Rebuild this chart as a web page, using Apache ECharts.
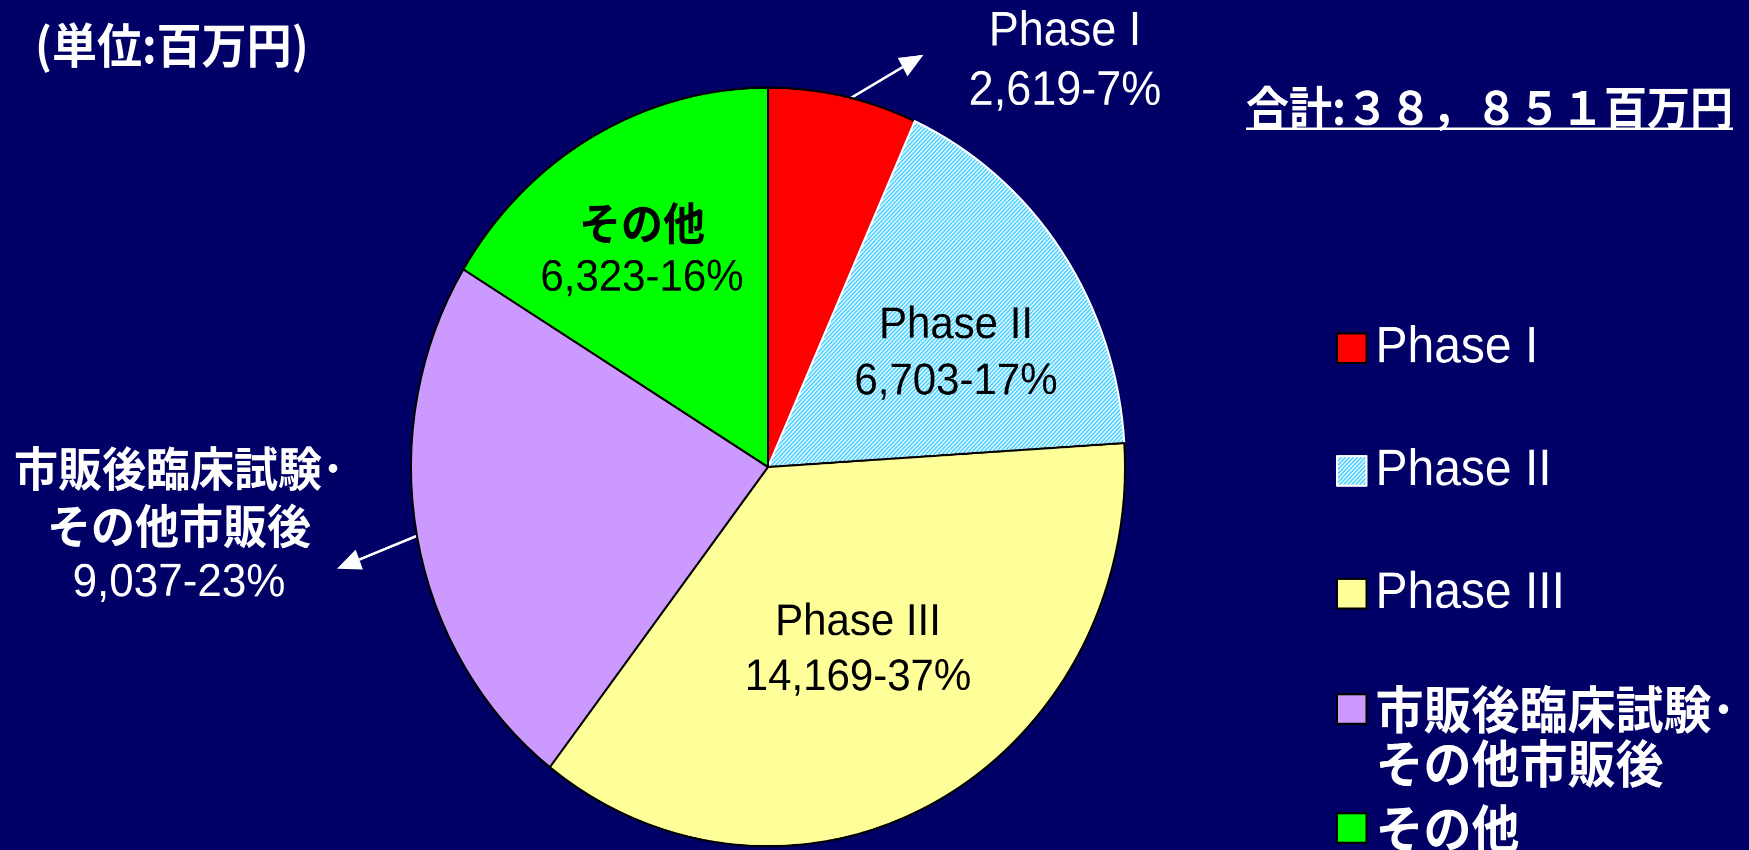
<!DOCTYPE html>
<html>
<head>
<meta charset="utf-8">
<script src="https://cdn.jsdelivr.net/npm/echarts@6/dist/echarts.min.js"></script>
<style>
  html, body { margin: 0; padding: 0; background: #000066; overflow: hidden; }
  #wrap { width: 1749px; height: 850px; overflow: hidden; background: #000066; }
  #c { width: 1749px; height: 800px; transform: scaleY(1.0625); transform-origin: 0 0; }
</style>
</head>
<body>
<div id="wrap"><div id="c"></div></div>
<script>
// ---- data ----
const names = ['Phase I', 'Phase II', 'Phase III', '市販後臨床試験･\nその他市販後', 'その他'];
const values = [2619, 6703, 14169, 9037, 6323];
const percents = [7, 17, 37, 23, 16];
const unitText = '(単位:百万円)';
const totalText = '合計:３８，８５１百万円';

// ---- styles ----
const LATIN = '"Liberation Sans", Arial, "Noto Sans CJK JP", sans-serif';
const CJK = '"Noto Sans CJK JP", "Liberation Sans", sans-serif';
const BG = '#000066';

// Phase II hatch pattern
const pc = document.createElement('canvas');
pc.width = 4; pc.height = 4;
const pctx = pc.getContext('2d');
pctx.fillStyle = '#ffffff'; pctx.fillRect(0, 0, 4, 4);
pctx.fillStyle = '#33ccff';
for (let x = 0; x < 4; x++) for (let y = 0; y < 4; y++) if ((x + y) % 4 < 2) pctx.fillRect(x, y, 1, 1);
const hatch = { image: pc, repeat: 'repeat' };

const sliceFill = ['#ff0000', hatch, '#ffff99', '#cc99ff', '#00ff00'];
const sliceBorder = ['#000000', '#ffffff', '#000000', '#000000', '#000000'];
const labelColor = ['#ffffff', '#000000', '#000000', '#ffffff', '#000000'];
const labelSize = [45, 42, 42, 44, 42];
const labelLH = [56, 53, 52, 54, 52];
const labelPos = [[1065, 58], [956, 333], [858, 612], [179, 495], [642, 236]];

const CX = 768, CY = 439.5, R = 357;

const chart = echarts.init(document.getElementById('c'), null, { renderer: 'canvas', devicePixelRatio: 2 });

const pieData = names.map((n, i) => ({
  name: n,
  value: values[i],
  itemStyle: { color: sliceFill[i], borderColor: sliceBorder[i], borderWidth: 2 },
  label: {
    color: labelColor[i],
    rich: {
      n: { fontFamily: LATIN, fontSize: labelSize[i], lineHeight: labelLH[i], color: labelColor[i] },
      c: { fontFamily: CJK, fontWeight: 'bold', fontSize: labelSize[i], lineHeight: labelLH[i], color: labelColor[i] },
      v: { fontFamily: LATIN, fontSize: labelSize[i], lineHeight: labelLH[i], color: labelColor[i] }
    }
  }
}));

function labelText(p) {
  const i = p.dataIndex;
  const st = i >= 3 ? 'c' : 'n';
  const lines = names[i].split('\n').map(l => '{' + st + '|' + l + '}');
  lines.push('{v|' + values[i].toLocaleString('en-US') + '-' + percents[i] + '%}');
  return lines.join('\n');
}

// arrows from slice mid-angles
const total = values.reduce((a, b) => a + b, 0);
function midPoint(idx, rf) {
  let cum = 0;
  for (let k = 0; k < idx; k++) cum += values[k];
  cum += values[idx] / 2;
  const a = (cum / total) * 2 * Math.PI; // clockwise from top
  return [CX + Math.sin(a) * R * rf, CY - Math.cos(a) * R * rf];
}
function arrow(start, end) {
  const dx = end[0] - start[0], dy = end[1] - start[1];
  const len = Math.hypot(dx, dy);
  const ux = dx / len, uy = dy / len, nx = -uy, ny = ux;
  const L = 24, W = 20;
  const bx = end[0] - ux * L, by = end[1] - uy * L;
  return [
    { type: 'line', silent: true, shape: { x1: start[0], y1: start[1], x2: bx, y2: by }, style: { stroke: '#ffffff', lineWidth: 2.5 } },
    { type: 'polygon', silent: true, shape: { points: [[end[0], end[1]], [bx + nx * W / 2, by + ny * W / 2], [bx - nx * W / 2, by - ny * W / 2]] }, style: { fill: '#ffffff' } }
  ];
}
const a0s = midPoint(0, 0.98);
const a3s = midPoint(3, 1.0);
const arrows = arrow(a0s, [a0s[0] + 82, a0s[1] - 46]).concat(arrow(a3s, [a3s[0] - 80, a3s[1] + 31]));

// underline width from text measure
const mctx = document.createElement('canvas').getContext('2d');
mctx.font = 'bold 43px ' + CJK;
const totalW = mctx.measureText(totalText).width;

const legendBase = {
  orient: 'vertical', left: 1336, padding: 0, itemWidth: 29.5, itemHeight: 27.8,
  icon: 'rect', selectedMode: false
};

chart.setOption({
  backgroundColor: BG,
  animation: false,
  legend: [
    Object.assign({}, legendBase, {
      top: 302.6, itemGap: 65.6,
      data: [names[0], names[1], names[2]],
      textStyle: { color: '#fff', fontFamily: LATIN, fontSize: 48, lineHeight: 50, padding: [0, 0, 0, 4] }
    }),
    Object.assign({}, legendBase, {
      top: 590.8,
      data: [names[3]],
      formatter: function (name) {
        return '{s| }\n' + name.split('\n').map(l => '{b|' + l + '}').join('\n');
      },
      textStyle: {
        color: '#fff', fontFamily: CJK, fontWeight: 'bold', fontSize: 48, lineHeight: 51, padding: [0, 0, 0, 4],
        rich: {
          s: { fontFamily: CJK, fontSize: 48, lineHeight: 51, color: '#fff' },
          b: { fontFamily: CJK, fontWeight: 'bold', fontSize: 48, lineHeight: 51, color: '#fff' }
        }
      }
    }),
    Object.assign({}, legendBase, {
      top: 754.3,
      data: [names[4]],
      textStyle: { color: '#fff', fontFamily: CJK, fontWeight: 'bold', fontSize: 48, lineHeight: 50, padding: [0, 0, 0, 4] }
    })
  ],
  graphic: [
    { type: 'text', silent: true, left: 35, top: 20,
      style: { text: unitText, fill: '#fff', font: 'bold 45px ' + CJK } },
    { type: 'text', silent: true, x: 1246, y: 101,
      style: { text: totalText, fill: '#fff', font: 'bold 43px ' + CJK, verticalAlign: 'middle', align: 'left' } },
    { type: 'rect', silent: true, shape: { x: 1246, y: 120, width: totalW, height: 2.5 }, style: { fill: '#fff' } }
  ].concat(arrows),
  series: [{
    type: 'pie',
    silent: true,
    center: [CX, CY],
    radius: R,
    startAngle: 90,
    clockwise: true,
    avoidLabelOverlap: false,
    emphasis: { disabled: true },
    label: {
      show: true,
      position: 'inside',
      align: 'center',
      verticalAlign: 'middle',
      formatter: labelText
    },
    labelLine: { show: false },
    labelLayout: function (p) {
      const pos = labelPos[p.dataIndex];
      return { x: pos[0], y: pos[1], align: 'center', verticalAlign: 'middle' };
    },
    data: pieData
  }]
});
</script>
</body>
</html>
